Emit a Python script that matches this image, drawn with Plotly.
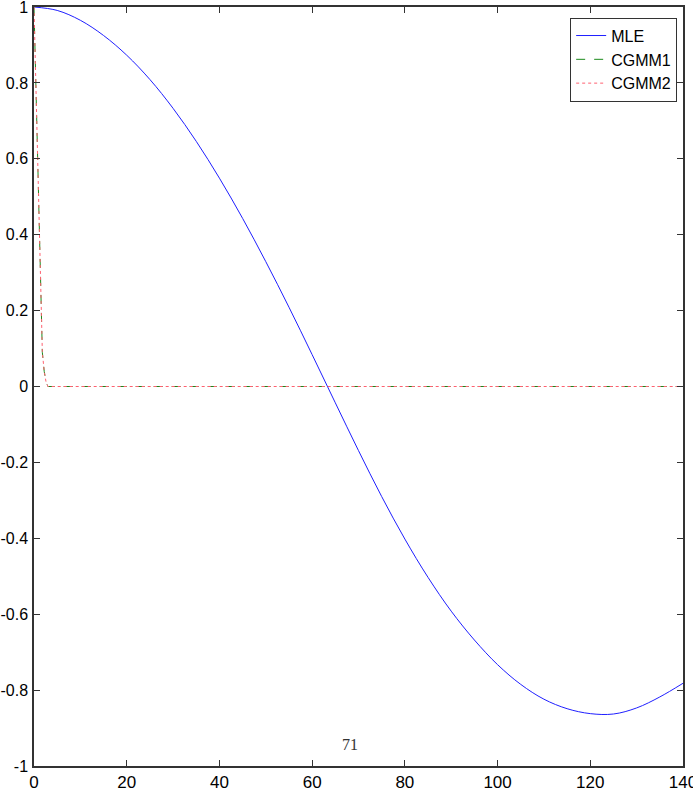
import plotly.graph_objects as go

# MLE autocorrelation
mle_lag = [0, 5, 10, 15, 20, 25, 30, 35, 40, 45, 50, 55, 60, 65, 70, 75, 80, 85, 90, 95,
           100, 105, 110, 115, 120, 125, 130, 135, 140]
mle_val = [1.000, 0.991, 0.965, 0.925, 0.873, 0.809, 0.733, 0.646, 0.549, 0.443, 0.329,
           0.209, 0.084, -0.043, -0.169, -0.290, -0.402, -0.503, -0.592, -0.668, -0.733,
           -0.785, -0.824, -0.849, -0.862, -0.863, -0.847, -0.818, -0.782]

# CGMM1 / CGMM2 (nearly identical, drop to zero within a few lags)
cg1_lag = [0, 0.4, 0.75, 1.1, 1.45, 1.8, 2.2, 2.6, 3, 140]
cg1_val = [1.0, 0.8, 0.6, 0.4, 0.2, 0.09, 0.04, 0.012, 0.0, 0.0]
cg2_lag = [0, 0.4, 0.75, 1.1, 1.45, 1.8, 2.2, 2.6, 3, 140]
cg2_val = [1.0, 0.8, 0.6, 0.4, 0.2, 0.09, 0.04, 0.012, 0.0, 0.0]

x_ticks = [0, 20, 40, 60, 80, 100, 120, 140]
y_ticks = [-1, -0.8, -0.6, -0.4, -0.2, 0, 0.2, 0.4, 0.6, 0.8, 1]
y_labels = ["-1", "-0.8", "-0.6", "-0.4", "-0.2", "0", "0.2", "0.4", "0.6", "0.8", "1"]

font_fam = "Liberation Sans, Arial, sans-serif"

fig = go.Figure()
fig.add_trace(go.Scatter(x=mle_lag, y=mle_val, mode="lines", name="MLE",
                         line=dict(color="#1f1fff", width=1, shape="spline", smoothing=1)))
fig.add_trace(go.Scatter(x=cg1_lag, y=cg1_val, mode="lines", name="CGMM1",
                         line=dict(color="#1a8a1a", width=1, dash="dash")))
fig.add_trace(go.Scatter(x=cg2_lag, y=cg2_val, mode="lines", name="CGMM2",
                         line=dict(color="#ff6070", width=1, dash="dot")))

axis_common = dict(showgrid=False, zeroline=False, showline=True, linecolor="#333333",
                   linewidth=1.5, mirror="ticks", ticks="inside", ticklen=6,
                   tickcolor="#333333", tickwidth=1, automargin=False,
                   ticklabeloverflow="allow")

fig.update_layout(
    width=693, height=791,
    margin=dict(l=34, r=10, t=7, b=25, autoexpand=False),
    paper_bgcolor="white", plot_bgcolor="white",
    xaxis=dict(range=[0, 140.0001], tickvals=x_ticks, ticktext=[str(v) for v in x_ticks],
               tickfont=dict(family=font_fam, size=17, color="black"), **axis_common),
    yaxis=dict(range=[-1.00001, 1.00001], tickvals=y_ticks, ticktext=y_labels,
               ticklabelstandoff=1,
               tickfont=dict(family=font_fam, size=16, color="black"), **axis_common),
    legend=dict(x=0.991, y=0.986, xanchor="right", yanchor="top",
                bordercolor="#333333", borderwidth=1, bgcolor="white",
                font=dict(family=font_fam, size=16, color="black"),
                tracegroupgap=0, itemwidth=30),
    showlegend=True,
    annotations=[dict(text="71", x=0.487, y=0.028, xref="paper", yref="paper",
                      xanchor="center", yanchor="middle", showarrow=False,
                      font=dict(family="Liberation Serif, DejaVu Serif, serif", size=16,
                                color="#333333"))],
)

fig.write_html("out.html")
